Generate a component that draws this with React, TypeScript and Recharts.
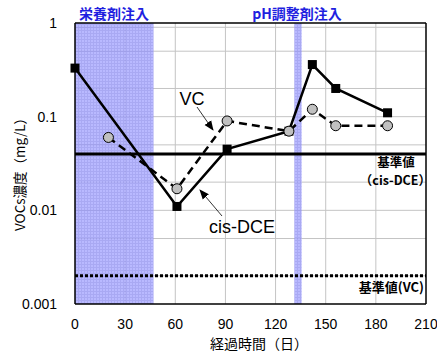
import { LineChart, Line, XAxis, YAxis, CartesianGrid, ReferenceArea, ReferenceLine, Customized } from 'recharts';

const days = [0, 20, 61, 91, 128, 142, 156, 187];
const vcValues = [0.33, null, 0.011, 0.045, 0.07, 0.36, 0.2, 0.11];
const cisValues = [null, 0.06, 0.017, 0.09, 0.07, 0.12, 0.08, 0.08];

const xTicks = [0, 30, 60, 90, 120, 150, 180, 210];
const yTicks = [0.001, 0.01, 0.1, 1];
const yGrid = [
  0.002, 0.003, 0.004, 0.005, 0.006, 0.007, 0.008, 0.009, 0.01,
  0.02, 0.03, 0.04, 0.05, 0.06, 0.07, 0.08, 0.09, 0.1,
  0.2, 0.3, 0.4, 0.5, 0.6, 0.7, 0.8, 0.9,
];

const cisStandard = 0.04;
const vcStandard = 0.002;
const nutrientPeriod = [0, 47];
const phPeriod = [131.2, 135.6];

const data = days.map((d, i) => ({ day: d, vc: vcValues[i], cis: cisValues[i] }));

const jp = '"Noto Sans CJK JP", "Liberation Sans", sans-serif';
const num = '"Liberation Sans", Arial, sans-serif';

const Notes = () => (
  <g>
    <defs>
      <marker id="arr" markerWidth="10" markerHeight="10" refX="9" refY="5" orient="auto" markerUnits="userSpaceOnUse">
        <path d="M0,1 L10,5 L0,9 z" fill="#000" />
      </marker>
    </defs>
    <text x={114} y={19} textAnchor="middle" fontFamily={jp} fontSize={14} fontWeight="bold" fill="#1f1fe0">栄養剤注入</text>
    <text x={297} y={19} textAnchor="middle" fontFamily={jp} fontSize={14} fontWeight="bold" fill="#1f1fe0">pH調整剤注入</text>
    <text x={192} y={105} textAnchor="middle" fontFamily={num} fontSize={18} fill="#000">VC</text>
    <line x1={197} y1={107} x2={213} y2={130} stroke="#000" strokeWidth={0.8} markerEnd="url(#arr)" />
    <text x={242} y={233} textAnchor="middle" fontFamily={num} fontSize={18} fill="#000">cis-DCE</text>
    <line x1={222} y1={216} x2={200} y2={190} stroke="#000" strokeWidth={0.8} markerEnd="url(#arr)" />
    <text x={396} y={167} textAnchor="middle" fontFamily={jp} fontSize={12.5} fontWeight="bold" fill="#000">基準値</text>
    <text x={431} y={185} textAnchor="end" fontFamily={jp} fontSize={12.5} fontWeight="bold" fill="#000">（cis-DCE）</text>
    <text x={424} y={292} textAnchor="end" fontFamily={jp} fontSize={13} fontWeight="bold" fill="#000">基準値(VC)</text>
    <text x={259} y={349} textAnchor="middle" fontFamily={jp} fontSize={14} fill="#000">経過時間（日）</text>
    <text x={0} y={0} transform="translate(25,171) rotate(-90)" textAnchor="middle" fontFamily={jp} fontSize={13.5} fill="#000">VOCs濃度（mg/L）</text>
  </g>
);

const Square = (props: any) => {
  const { cx, cy, payload } = props;
  if (payload.vc == null) return null;
  return <rect x={cx - 4.5} y={cy - 4.5} width={9} height={9} fill="#000" />;
};

export default function App() {
  return (
    <div style={{ position: 'absolute', left: 0, top: 0, background: '#fff' }}>
      <LineChart width={437} height={356} data={data} margin={{ top: 23, right: 11, bottom: 0, left: 0 }}>
        <defs>
          <pattern id="hatch" width="3" height="3" patternUnits="userSpaceOnUse">
            <rect width="3" height="3" fill="#a8a8ff" />
            <path d="M0,0.5 H3 M0.5,0 V3" stroke="#9494f0" strokeWidth={1} />
          </pattern>
        </defs>
        <CartesianGrid stroke="#c4c4c4" strokeWidth={1} horizontalValues={yGrid} verticalValues={[30, 60, 90, 120, 150, 180]} />
        <ReferenceArea x1={nutrientPeriod[0]} x2={nutrientPeriod[1]} y1={0.001} y2={1} fill="url(#hatch)" fillOpacity={0.8} stroke="none" ifOverflow="visible" />
        <ReferenceArea x1={phPeriod[0]} x2={phPeriod[1]} y1={0.001} y2={1} fill="url(#hatch)" fillOpacity={0.8} stroke="none" ifOverflow="visible" />
        <XAxis
          dataKey="day"
          type="number"
          domain={[0, 210]}
          ticks={xTicks}
          height={52}
          tickLine={false}
          tickMargin={9}
          axisLine={{ stroke: '#000', strokeWidth: 1.5 }}
          tick={{ fill: '#000', fontSize: 14, fontFamily: num }}
        />
        <YAxis
          scale="log"
          type="number"
          domain={[0.001, 1]}
          ticks={yTicks}
          width={75}
          tickLine={false}
          tickMargin={12}
          allowDataOverflow
          axisLine={{ stroke: '#000', strokeWidth: 1.5 }}
          tick={{ fill: '#000', fontSize: 14, fontFamily: num }}
          tickFormatter={(v: number) => String(v)}
        />
        <ReferenceLine y={1} stroke="#000" strokeWidth={1.5} />
        <ReferenceLine x={210} stroke="#000" strokeWidth={1.5} />
        <ReferenceLine y={cisStandard} stroke="#000" strokeWidth={3} />
        <ReferenceLine y={vcStandard} stroke="#000" strokeWidth={3} strokeDasharray="3 2" />
        <Line
          dataKey="vc"
          stroke="#000"
          strokeWidth={2.5}
          connectNulls
          dot={<Square />}
          isAnimationActive={false}
        />
        <Line
          dataKey="cis"
          stroke="#000"
          strokeWidth={2.5}
          strokeDasharray="8 5"
          connectNulls
          dot={{ r: 5, fill: '#c0c0c0', stroke: '#000', strokeWidth: 1, strokeDasharray: '' }}
          isAnimationActive={false}
        />
        <Customized component={<Notes />} />
      </LineChart>
    </div>
  );
}
